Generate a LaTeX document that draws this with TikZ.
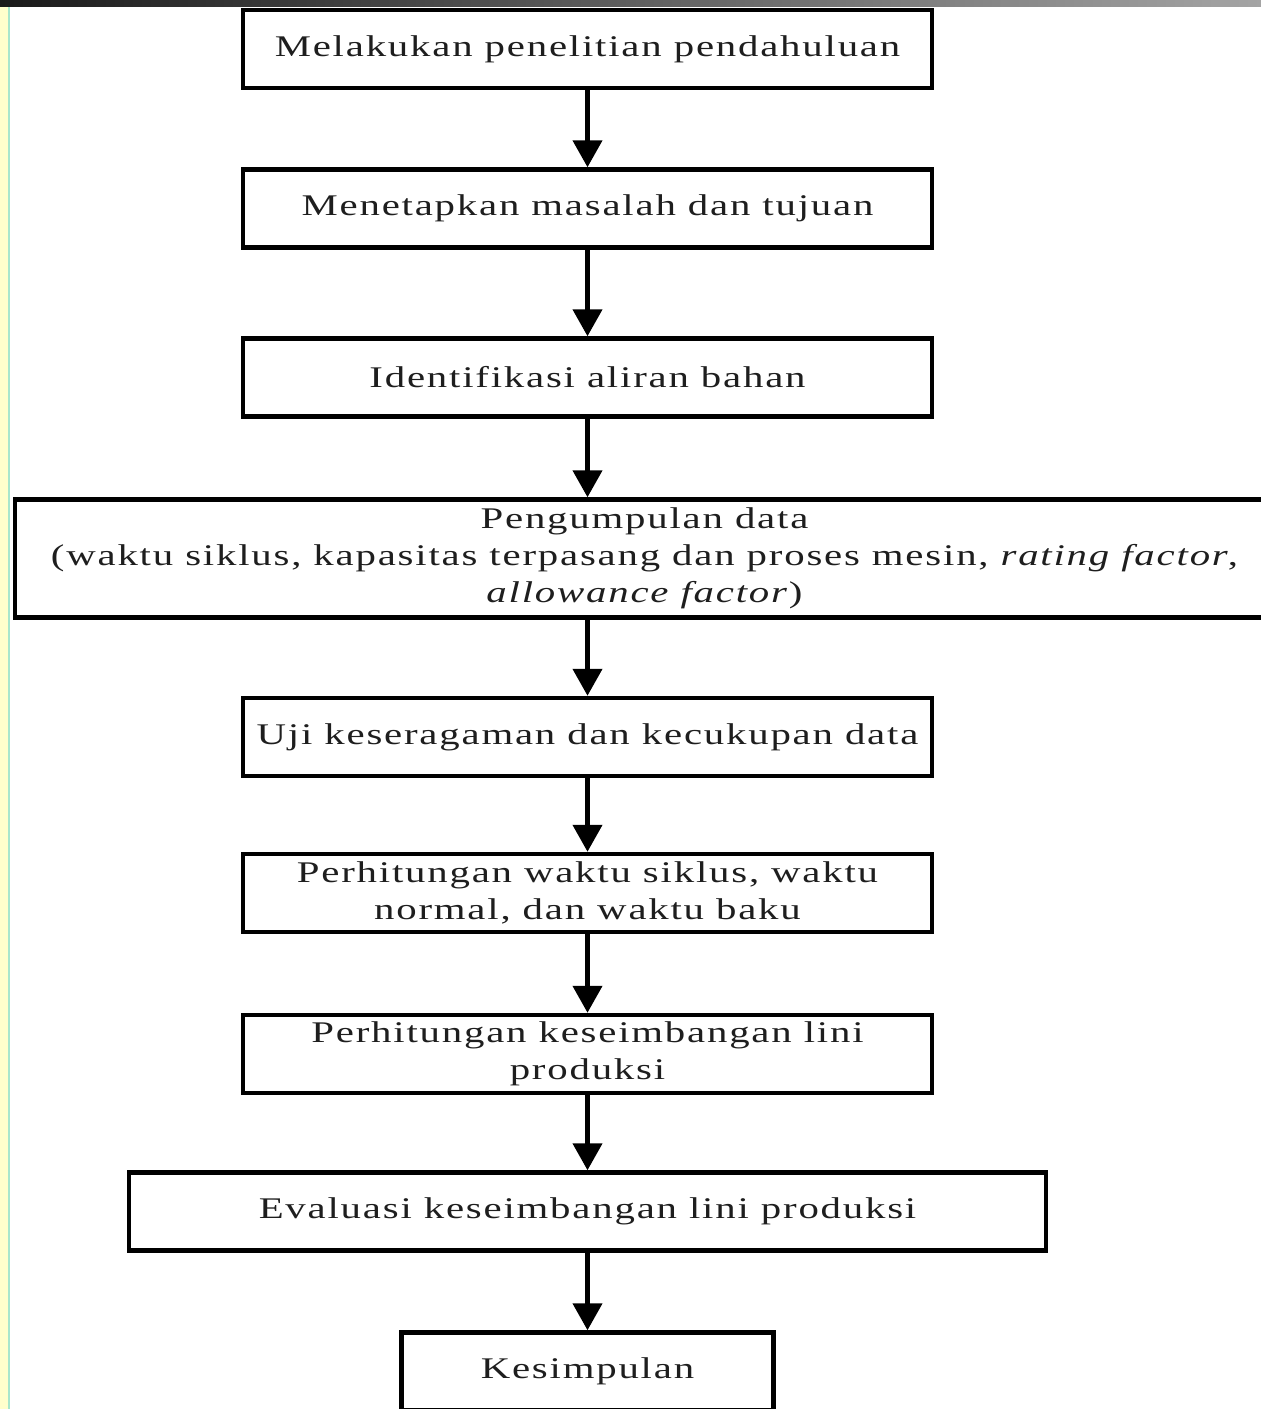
\documentclass[tikz,border=0pt]{standalone}
\usepackage{fontspec}
\setmainfont{Liberation Serif}[FakeStretch=1.36,LetterSpace=6]
\usetikzlibrary{arrows.meta}

\definecolor{inkgray}{HTML}{1E1E1E}
\definecolor{stripyellow}{HTML}{FFFFCC}
\definecolor{stripgreen}{HTML}{A8E6CC}
\definecolor{barleft}{HTML}{1A1A1A}
\definecolor{barright}{HTML}{A4A4A4}

\tikzset{
  stepbox/.style={draw=black, line width=4.5pt, rectangle, inner sep=0pt,
    minimum width=689pt, minimum height=78pt, align=center,
    text=inkgray, font=\fontsize{30}{37}\selectfont},
  flow/.style={line width=4.5pt, draw=black,
    -{Triangle[length=27pt,width=29pt]}}
}

\begin{document}
\begin{tikzpicture}[x=1pt,y=-1pt]
  \useasboundingbox (0,0) rectangle (1261,1409);
  \clip (0,0) rectangle (1261,1409);
  \fill[white] (0,0) rectangle (1261,1409);

  % page frame: side strip and top bar
  \fill[stripyellow] (0,0) rectangle (8,1409);
  \fill[stripgreen] (8,0) rectangle (10,1409);
  \shade[left color=barleft, right color=barright] (0,0) rectangle (1261,6);

  % process steps
  \node[stepbox] (b1) at (587.5,49) {Melakukan penelitian pendahuluan};
  \node[stepbox] (b2) at (587.5,208.5) {Menetapkan masalah dan tujuan};
  \node[stepbox] (b3) at (587.5,377.5) {Identifikasi aliran bahan};
  \node[stepbox, minimum width=1259pt, minimum height=118pt] (b4) at (644.5,558.5)
    {Pengumpulan data\\(waktu siklus, kapasitas terpasang dan proses mesin, \textit{rating factor},\\\textit{allowance factor})};
  \node[stepbox] (b5) at (587.5,737) {Uji keseragaman dan kecukupan data};
  \node[stepbox] (b6) at (587.5,893) {Perhitungan waktu siklus, waktu\\normal, dan waktu baku};
  \node[stepbox] (b7) at (587.5,1054) {Perhitungan keseimbangan lini\\produksi};
  \node[stepbox, minimum width=917pt] (b8) at (587.5,1211.5) {Evaluasi keseimbangan lini produksi};
  \node[stepbox, minimum width=372pt] (b9) at (587.5,1371.5) {Kesimpulan};

  % connectors
  \draw[flow] (b1.south) -- (b2.north);
  \draw[flow] (b2.south) -- (b3.north);
  \draw[flow] (b3.south) -- (b3.south |- b4.north);
  \draw[flow] (b4.south -| b5.north) -- (b5.north);
  \draw[flow] (b5.south) -- (b6.north);
  \draw[flow] (b6.south) -- (b7.north);
  \draw[flow] (b7.south) -- (b8.north);
  \draw[flow] (b8.south) -- (b9.north);
\end{tikzpicture}
\end{document}
